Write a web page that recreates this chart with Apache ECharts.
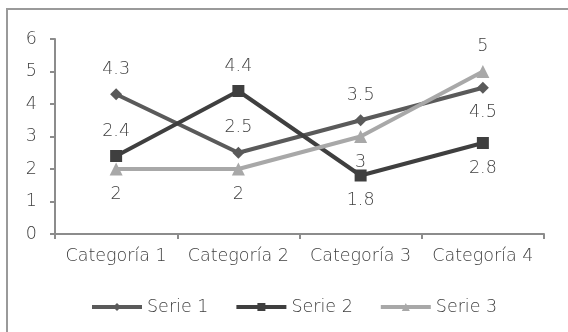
<!DOCTYPE html>
<html>
<head>
<meta charset="utf-8">
<script src="https://cdn.jsdelivr.net/npm/echarts@6/dist/echarts.min.js"></script>
<style>
  html, body { margin: 0; padding: 0; background: #fff; }
  #chart { width: 568px; height: 332px; }
</style>
</head>
<body>
<div id="chart"></div>
<script>
const categories = ['Categoría 1', 'Categoría 2', 'Categoría 3', 'Categoría 4'];
const serie1 = [4.3, 2.5, 3.5, 4.5];
const serie2 = [2.4, 4.4, 1.8, 2.8];
const serie3 = [2, 2, 3, 5];
// label placement for each point of each series
const pos1 = ['top', 'top', 'top', 'bottom'];
const pos2 = ['top', 'top', 'bottom', 'bottom'];
const pos3 = ['bottom', 'bottom', 'bottom', 'top'];

const FONT = 'DejaVu Sans';
const WEIGHT = 300;
const TEXT = '#404040';
const SIZE = 17.5;

function points(values, positions) {
  return values.map((v, i) => ({ value: v, label: { position: positions[i] } }));
}

function makeSeries(name, values, positions, color, symbol, size) {
  return {
    name: name,
    type: 'line',
    data: points(values, positions),
    symbol: symbol,
    symbolSize: size,
    lineStyle: { color: color, width: 4 },
    itemStyle: { color: color },
    label: {
      show: true,
      distance: 10,
      color: TEXT,
      fontFamily: FONT,
      fontWeight: WEIGHT,
      fontSize: SIZE
    },
    emphasis: { disabled: true },
    animation: false
  };
}

const chart = echarts.init(document.getElementById('chart'));
chart.setOption({
  animation: false,
  graphic: [{
    type: 'rect',
    shape: { x: 7, y: 9, width: 600, height: 400 },
    style: { fill: 'none', stroke: '#9a9a9a', lineWidth: 2 },
    silent: true
  }],
  grid: { left: 55, right: 24, top: 39, bottom: 98 },
  xAxis: {
    type: 'category',
    data: categories,
    boundaryGap: true,
    axisLine: { lineStyle: { color: '#8c8c8c', width: 2 } },
    axisTick: { show: true, interval: 0, length: 5, lineStyle: { color: '#8c8c8c', width: 2 } },
    axisLabel: { interval: 0, color: TEXT, fontFamily: FONT, fontWeight: WEIGHT, fontSize: SIZE, margin: 13 }
  },
  yAxis: {
    type: 'value',
    min: 0,
    max: 6,
    interval: 1,
    splitLine: { show: false },
    axisLine: { show: true, lineStyle: { color: '#8c8c8c', width: 2 } },
    axisTick: { show: true, length: 5, lineStyle: { color: '#8c8c8c', width: 2 } },
    axisLabel: { color: TEXT, fontFamily: FONT, fontWeight: WEIGHT, fontSize: SIZE, margin: 18 }
  },
  legend: {
    top: 293,
    left: 85,
    itemWidth: 50,
    itemHeight: 10,
    itemGap: 26,
    lineStyle: { width: 4 },
    textStyle: { color: TEXT, fontFamily: FONT, fontWeight: WEIGHT, fontSize: SIZE },
    data: ['Serie 1', 'Serie 2', 'Serie 3']
  },
  series: [
    makeSeries('Serie 1', serie1, pos1, '#5a5a5a', 'diamond', 12),
    makeSeries('Serie 2', serie2, pos2, '#3f3f3f', 'rect', 12),
    makeSeries('Serie 3', serie3, pos3, '#a8a8a8', 'triangle', 13)
  ]
});
</script>
</body>
</html>
